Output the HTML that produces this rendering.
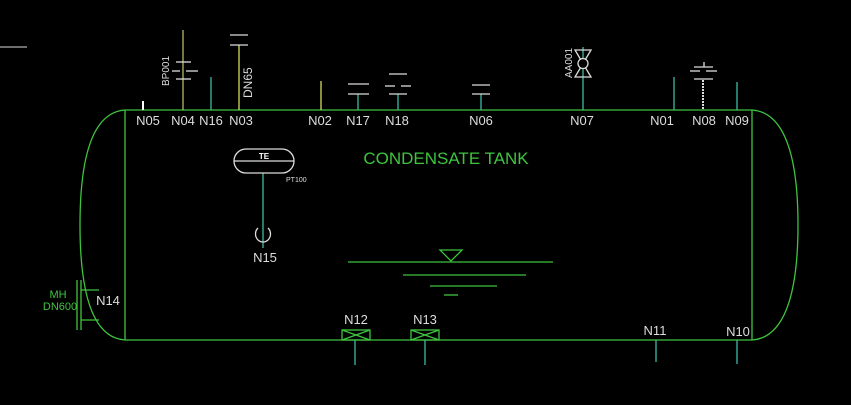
<!DOCTYPE html>
<html><head><style>body{margin:0;background:#000;}svg{display:block}</style></head><body>
<svg width="851" height="405" viewBox="0 0 851 405" xmlns="http://www.w3.org/2000/svg" font-family="Liberation Sans, sans-serif">
<rect width="851" height="405" fill="#000"/>
<line x1="0" y1="47" x2="27" y2="47" stroke="#ddd" stroke-width="1"/>
<g stroke="#3ec43e" stroke-width="1.3" fill="none">
<line x1="125" y1="110" x2="752" y2="110"/>
<line x1="125" y1="340" x2="752" y2="340"/>
<line x1="125" y1="110" x2="125" y2="340"/>
<line x1="752" y1="110" x2="752" y2="340"/>
<path d="M125,110 C95,112 80,150 80,225 C80,300 95,338 125,340"/>
<path d="M752,110 C782,112 798,150 798,225 C798,300 782,338 752,340"/>
<line x1="77" y1="280" x2="77" y2="330"/><line x1="81" y1="280" x2="81" y2="330"/>
<line x1="81" y1="290" x2="99" y2="290"/><line x1="81" y1="320" x2="99" y2="320"/>
<rect x="342" y="330" width="28" height="10"/><line x1="342" y1="330" x2="370" y2="340"/><line x1="370" y1="330" x2="342" y2="340"/>
<rect x="411" y="330" width="28" height="10"/><line x1="411" y1="330" x2="439" y2="340"/><line x1="439" y1="330" x2="411" y2="340"/>
<line x1="348" y1="262" x2="553" y2="262"/>
<line x1="403" y1="275" x2="526" y2="275"/>
<line x1="430" y1="286" x2="497" y2="286"/>
<line x1="444" y1="295" x2="458" y2="295"/>
<path d="M440,250 L462,250 L451,261 Z"/>
</g>
<text x="58" y="298" fill="#3ec43e" font-size="11" text-anchor="middle">MH</text>
<text x="60" y="310" fill="#3ec43e" font-size="11" text-anchor="middle">DN600</text>
<text x="446" y="164" fill="#3ec43e" font-size="17" text-anchor="middle">CONDENSATE TANK</text>
<g stroke-width="1.3" fill="none">
<line x1="143" y1="101" x2="143" y2="110" stroke="#fff" stroke-width="2"/>
<line x1="183" y1="30" x2="183" y2="110" stroke="#b5b56a"/>
<line x1="211" y1="77" x2="211" y2="110" stroke="#3fb8a8"/>
<line x1="239" y1="45" x2="239" y2="110" stroke="#d8d860"/>
<line x1="321" y1="81" x2="321" y2="110" stroke="#d8d860"/>
<line x1="358" y1="94" x2="358" y2="110" stroke="#3fb8a8"/>
<line x1="398" y1="94" x2="398" y2="110" stroke="#3fb8a8"/>
<line x1="481" y1="94" x2="481" y2="110" stroke="#3fb8a8"/>
<line x1="583" y1="47" x2="583" y2="110" stroke="#3fb8a8"/>
<line x1="674" y1="77" x2="674" y2="110" stroke="#3fb8a8"/>
<line x1="703" y1="80" x2="703" y2="110" stroke="#ddd" stroke-width="2" stroke-dasharray="2,1"/>
<line x1="737" y1="82" x2="737" y2="110" stroke="#3fb8a8"/>
<line x1="355" y1="340" x2="355" y2="365" stroke="#3fb8a8"/>
<line x1="425" y1="340" x2="425" y2="365" stroke="#3fb8a8"/>
<line x1="656" y1="340" x2="656" y2="362" stroke="#3fb8a8"/>
<line x1="737" y1="340" x2="737" y2="364" stroke="#3fb8a8"/>
<line x1="263" y1="173" x2="263" y2="248" stroke="#3fb8a8"/>
</g>
<g stroke="#ddd" stroke-width="1.3" fill="none">
<line x1="176" y1="62" x2="191" y2="62"/><line x1="172" y1="71" x2="180" y2="71"/><line x1="186" y1="71" x2="198" y2="71"/><line x1="176" y1="79" x2="191" y2="79"/>
<line x1="230" y1="35" x2="248" y2="35"/><line x1="230" y1="45" x2="248" y2="45"/>
<line x1="348" y1="84" x2="369" y2="84"/><line x1="348" y1="94" x2="369" y2="94"/>
<line x1="389" y1="74" x2="407" y2="74"/><line x1="385" y1="86" x2="395" y2="86"/><line x1="401" y1="86" x2="411" y2="86"/><line x1="389" y1="94" x2="407" y2="94"/>
<line x1="472" y1="85" x2="490" y2="85"/><line x1="472" y1="94" x2="490" y2="94"/>
<path d="M575,50 L591,50 L575,77 L591,77 Z"/><circle cx="583" cy="63.5" r="5" fill="#000"/>
<line x1="704" y1="62" x2="704" y2="67"/><line x1="694" y1="67" x2="713" y2="67"/><line x1="690" y1="71" x2="700" y2="71"/><line x1="706" y1="71" x2="717" y2="71"/><line x1="694" y1="79" x2="713" y2="79"/>
<rect x="234" y="149" width="60" height="24" rx="12"/><line x1="234" y1="161" x2="294" y2="161"/>
<path d="M258,228 A7.5,8 0 1 0 268,228"/>
</g>
<text x="264" y="159" fill="#fff" font-size="8" font-weight="bold" text-anchor="middle">TE</text>
<text x="286" y="182" fill="#ddd" font-size="7">PT100</text>
<g fill="#ddd" font-size="10">
<text transform="translate(169,86) rotate(-90)">BP001</text>
<text transform="translate(252,98) rotate(-90)" font-size="12">DN65</text>
<text transform="translate(572,78) rotate(-90)">AA001</text>
</g>
<g fill="#ddd" font-size="13" text-anchor="middle">
<text x="148" y="125">N05</text><text x="183" y="125">N04</text><text x="211" y="125">N16</text><text x="241" y="125">N03</text>
<text x="320" y="125">N02</text><text x="358" y="125">N17</text><text x="397" y="125">N18</text><text x="481" y="125">N06</text>
<text x="582" y="125">N07</text><text x="662" y="125">N01</text><text x="704" y="125">N08</text><text x="737" y="125">N09</text>
<text x="108" y="305">N14</text><text x="265" y="262">N15</text>
<text x="356" y="324">N12</text><text x="425" y="324">N13</text>
<text x="655" y="335">N11</text><text x="738" y="336">N10</text>
</g>
</svg>
</body></html>
